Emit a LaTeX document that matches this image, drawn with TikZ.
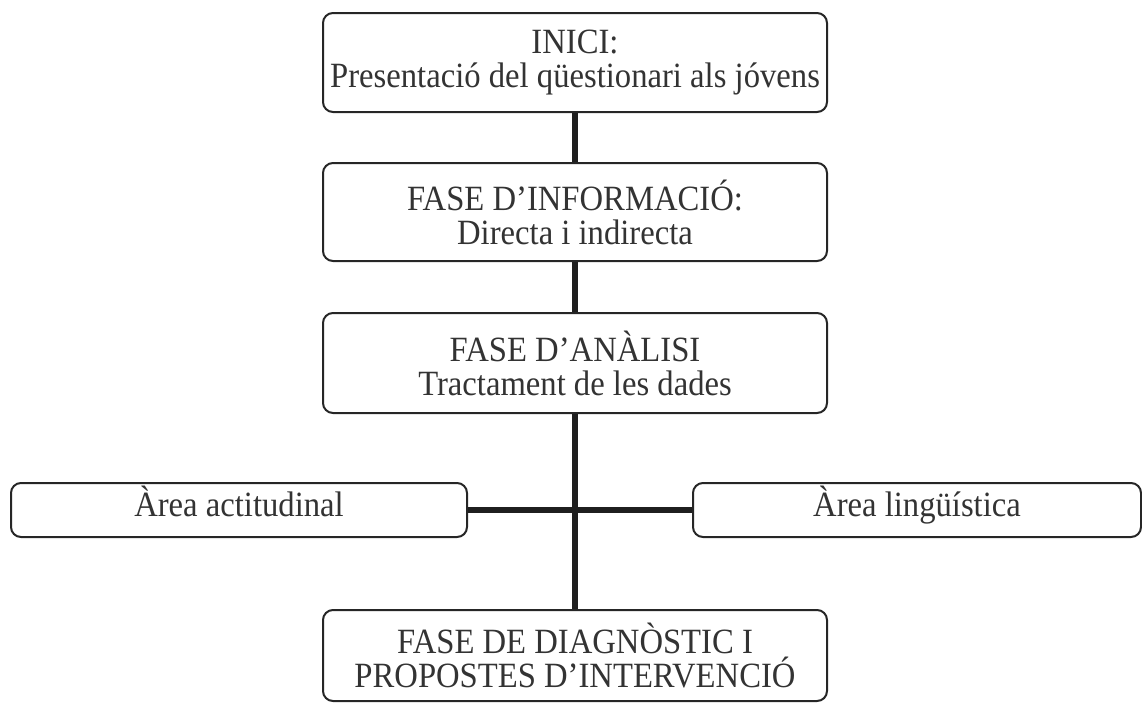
\documentclass[tikz,border=0pt]{standalone}
\usepackage{fontspec}
\setmainfont{Liberation Serif}
\newfontfamily\boxfont[FakeStretch=0.92]{Liberation Serif}
\begin{document}
\begin{tikzpicture}[x=1pt,y=-1pt,
  box/.style={draw=black!85, line width=2pt, rounded corners=10pt, fill=white,
    align=center, inner sep=0pt, text=black!80,
    font=\boxfont\fontsize{35.5}{34}\selectfont},
  bigbox/.style={box, minimum width=504pt},
  smallbox/.style={box, minimum height=54pt, text height=21pt, text depth=8pt},
  conn/.style={draw=black!88, line width=6pt}]
\useasboundingbox (0,0) rectangle (1142,704);
\node[bigbox, minimum height=99pt] (b1) at (575,62.5) {INICI:\\Presentació del qüestionari als jóvens};
\node[bigbox, minimum height=98pt] (b2) at (575,212) {FASE D’INFORMACIÓ:\\Directa i indirecta};
\node[bigbox, minimum height=100pt] (b3) at (575,363) {FASE D’ANÀLISI\\Tractament de les dades};
\node[smallbox, minimum width=456pt] (bl) at (239,510) {Àrea actitudinal};
\node[smallbox, minimum width=448pt] (br) at (917,510) {Àrea lingüística};
\node[bigbox, minimum height=91pt] (b4) at (575,655.5) {FASE DE DIAGNÒSTIC I\\PROPOSTES D’INTERVENCIÓ};
\draw[conn] (b1) -- (b2);
\draw[conn] (b2) -- (b3);
\draw[conn] (b3) -- (b4);
\draw[conn] (bl) -- (br);
\end{tikzpicture}
\end{document}
